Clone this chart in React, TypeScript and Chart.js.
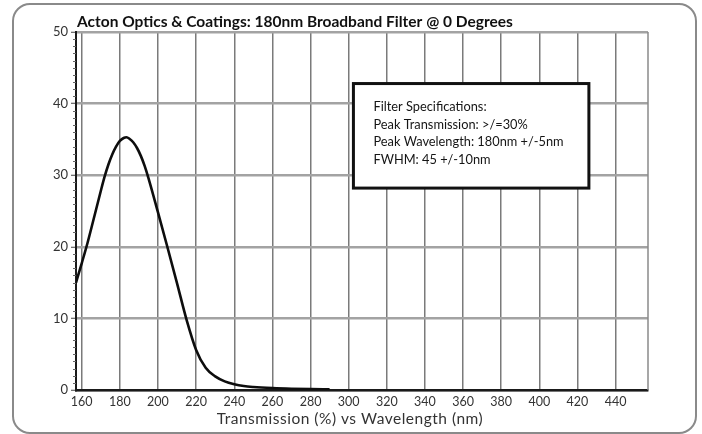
import React, { useEffect, useRef } from 'react';
import { Chart, registerables } from 'chart.js';

Chart.register(...registerables);

// ---- Text ----
const CHART_TITLE = 'Acton Optics & Coatings: 180nm Broadband Filter @ 0 Degrees';
const X_AXIS_TITLE = 'Transmission (%) vs Wavelength (nm)';
const SPEC_LINES = [
  'Filter Specifications:',
  'Peak Transmission: >/=30%',
  'Peak Wavelength: 180nm +/-5nm',
  'FWHM: 45 +/-10nm',
];

// ---- Data ----
const wavelengths = [157, 160, 163, 166, 170, 172, 174, 176, 178, 180, 182, 183.5, 185, 187, 189, 191, 193, 195, 200, 205, 210, 215, 220, 225, 230, 235, 240, 245, 250, 260, 270, 280, 290];
const transmission = [15.0, 17.7, 20.5, 23.6, 27.8, 29.8, 31.5, 32.9, 34.0, 34.8, 35.2, 35.3, 35.1, 34.6, 33.8, 32.7, 31.3, 29.6, 24.8, 19.9, 14.9, 9.8, 5.6, 3.1, 1.9, 1.2, 0.8, 0.55, 0.42, 0.27, 0.18, 0.13, 0.1];

// ---- Axes ----
const X_MIN = 157;
const X_MAX = 457;
const xTicks = [160, 180, 200, 220, 240, 260, 280, 300, 320, 340, 360, 380, 400, 420, 440];
const Y_MIN = 0;
const Y_MAX = 50;
const yTicks = [0, 10, 20, 30, 40, 50];
const Y_MINOR_STEP = 1;

// spec box corners in data units
const specBoxX = [302.5, 426];
const specBoxY = [42.8, 28.2];

const decorPlugin = {
  id: 'decor',
  beforeDatasetsDraw(chart: any) {
    const { ctx, chartArea } = chart;
    const { right, top, bottom, left } = chartArea;
    ctx.save();
    // right border
    ctx.strokeStyle = '#8a8a8a';
    ctx.lineWidth = 1.5;
    ctx.beginPath();
    ctx.moveTo(right, top);
    ctx.lineTo(right, bottom);
    ctx.stroke();
    // minor ticks on y axis
    const yScale = chart.scales.y;
    ctx.strokeStyle = '#666';
    ctx.lineWidth = 1;
    ctx.beginPath();
    for (let v = Y_MIN; v <= Y_MAX; v += Y_MINOR_STEP) {
      if (yTicks.includes(v)) continue;
      const py = Math.round(yScale.getPixelForValue(v)) + 0.5;
      ctx.moveTo(left - 3, py);
      ctx.lineTo(left, py);
    }
    ctx.stroke();
    ctx.restore();
  },
  afterDraw(chart: any) {
    const { ctx, chartArea } = chart;
    const xs = chart.scales.x;
    const ys = chart.scales.y;
    ctx.save();
    // title
    ctx.fillStyle = '#111';
    ctx.font = 'bold 15.5px Lato';
    ctx.textAlign = 'left';
    ctx.textBaseline = 'alphabetic';
    ctx.fillText(CHART_TITLE, chartArea.left + 1, 27);
    // x axis title
    ctx.fillStyle = '#333';
    ctx.font = '15.5px Lato';
    (ctx as any).letterSpacing = '0.5px';
    ctx.textAlign = 'center';
    ctx.fillText(X_AXIS_TITLE, 350, 424);
    (ctx as any).letterSpacing = '0px';
    // spec box
    const bx0 = xs.getPixelForValue(specBoxX[0]);
    const bx1 = xs.getPixelForValue(specBoxX[1]);
    const by0 = ys.getPixelForValue(specBoxY[0]);
    const by1 = ys.getPixelForValue(specBoxY[1]);
    ctx.fillStyle = '#fff';
    ctx.fillRect(bx0, by0, bx1 - bx0, by1 - by0);
    ctx.strokeStyle = '#111';
    ctx.lineWidth = 3;
    ctx.strokeRect(bx0, by0, bx1 - bx0, by1 - by0);
    ctx.fillStyle = '#151515';
    ctx.font = '12.8px Lato';
    ctx.textAlign = 'left';
    ctx.textBaseline = 'middle';
    SPEC_LINES.forEach((line, i) => {
      ctx.fillText(line, bx0 + 20, by0 + 23.5 + i * 17.5);
    });
    ctx.restore();
  },
};

export default function App() {
  const canvasRef = useRef<HTMLCanvasElement | null>(null);

  useEffect(() => {
    if (!canvasRef.current) return;
    const chart = new Chart(canvasRef.current, {
      type: 'line',
      data: {
        datasets: [
          {
            data: wavelengths.map((w, i) => ({ x: w, y: transmission[i] })),
            borderColor: '#0d0d0d',
            borderWidth: 2.6,
            pointRadius: 0,
            fill: false,
            cubicInterpolationMode: 'monotone',
          },
        ],
      },
      options: {
        animation: false,
        responsive: false,
        devicePixelRatio: 1,
        layout: { padding: { left: 0, right: 54, top: 32, bottom: 0 } },
        plugins: {
          legend: { display: false },
          tooltip: { enabled: false },
          title: { display: false },
        },
        scales: {
          x: {
            type: 'linear',
            min: X_MIN,
            max: X_MAX,
            afterBuildTicks: (s: any) => {
              s.ticks = xTicks.map((v) => ({ value: v }));
            },
            afterFit: (s: any) => {
              s.height = 44;
            },
            grid: { color: '#7a7a7a', lineWidth: 1.5, drawTicks: false },
            border: { color: '#1a1a1a', width: 2.5 },
            ticks: {
              font: { family: 'Lato', size: 12.5 },
              color: '#333',
              padding: 4,
              maxRotation: 0,
              autoSkip: false,
            },
          },
          y: {
            type: 'linear',
            min: Y_MIN,
            max: Y_MAX,
            afterBuildTicks: (s: any) => {
              s.ticks = yTicks.map((v) => ({ value: v }));
            },
            afterFit: (s: any) => {
              s.width = 76;
            },
            grid: { color: '#a3a3a3', lineWidth: 2.5, tickLength: 5, tickColor: '#444', tickWidth: 1 },
            border: { color: '#1a1a1a', width: 2 },
            ticks: {
              font: { family: 'Lato', size: 13 },
              color: '#333',
              padding: 3,
            },
          },
        },
      },
      plugins: [decorPlugin],
    } as any);
    return () => chart.destroy();
  }, []);

  return (
    <div style={{ position: 'absolute', left: 0, top: 0, width: 702, height: 434, background: '#fff', overflow: 'hidden' }}>
      <div
        style={{
          position: 'absolute',
          left: 12,
          top: 3,
          width: 685,
          height: 431,
          border: '2px solid #8a8a8a',
          borderRadius: 18,
          boxSizing: 'border-box',
        }}
      />
      <canvas
        ref={canvasRef}
        width={702}
        height={434}
        style={{ position: 'absolute', left: 0, top: 0, width: 702, height: 434 }}
      />
    </div>
  );
}
